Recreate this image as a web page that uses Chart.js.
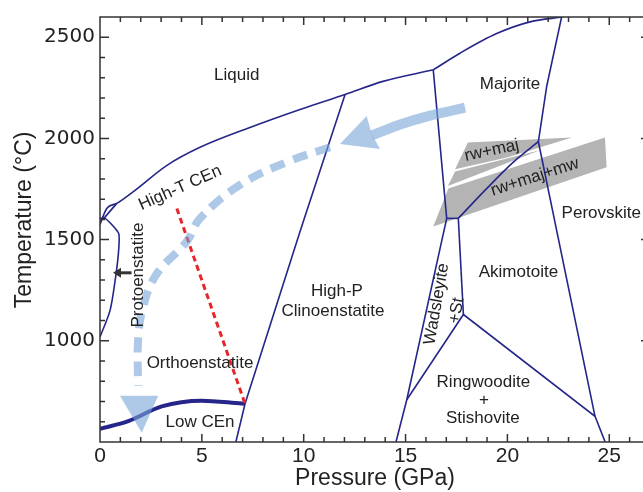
<!DOCTYPE html>
<html>
<head>
<meta charset="utf-8">
<script src="https://cdn.jsdelivr.net/npm/chart.js@4.4.1/dist/chart.umd.min.js"></script>
<style>
  html, body { margin: 0; padding: 0; overflow: hidden; background: #fff; }
  #wrap { width: 660px; height: 492px; }
</style>
</head>
<body>
<div id="wrap"><canvas id="phaseChart" width="660" height="492"></canvas></div>
<script>
// tick labels
const pressureTicks = [0, 5, 10, 15, 20, 25];
const temperatureTicks = [1000, 1500, 2000, 2500];

// phase boundaries as [pressure (GPa), temperature (°C)]
const liquidusLow = [[0,1575],[0.33,1654],[0.82,1679],[1.62,1736],[3.27,1866],[4.91,1956],[7.36,2054],[9.82,2143],[12.03,2217],[13.89,2282],[16.36,2339]];
const liquidusHigh = [[16.36,2339],[17.67,2421],[19.47,2518],[21.11,2576],[22.7,2600]];
const protoBoundary = [[0,1019],[0.49,1149],[0.74,1296],[0.9,1428],[0.93,1526],[0.74,1556],[0.25,1605],[0,1605]];
const protoTie = [[0.82,1679],[0.15,1600]];
const clinoBoundary = [[12.03,2217],[9.82,1540],[7.12,689],[6.67,500]];
const lowCEnBoundary = [[0,565],[1.39,603],[3.03,676],[4.99,704],[6.96,690],[7.12,689]];
const metastableLine = [[3.77,1654],[7.12,689]];
const wadsleyiteLeft = [[16.36,2339],[17.02,1605],[16.77,1491],[15.06,709],[14.53,500]];
const wadsleyiteTop = [[17.02,1605],[17.59,1605]];
const wadsleyiteRight = [[17.59,1605],[17.84,1130]];
const ringwooditeTop = [[15.06,709],[17.84,1130],[24.30,627],[24.8,500]];
const garnetCurve = [[17.59,1605],[18.98,1752],[20.29,1883],[21.52,1984]];
const perovskiteLine = [[22.66,2600],[21.93,2258],[21.52,1984],[24.30,627]];

// grey fields
const rwMaj = [[18.06,1980],[23.17,2005],[20.03,1907],[17.43,1848]];
const rwMajSliver = [[17.43,1836],[21.60,1941],[17.08,1765]];
const rwMajMw = [[17.10,1752],[24.79,2005],[24.87,1858],[16.36,1565]];

// arrows
const arrowShaft = [[17.92,2152],[16.20,2113],[14.73,2069],[13.35,2015]];
const arrowHeadUpper = [[11.78,1972],[13.09,2111],[13.34,2021],[13.75,1948]];
const arrowDashed = [[11.29,1956],[9.17,1883],[6.87,1770],[4.91,1605],[4.26,1491],[2.78,1330],[2.11,1165],[1.87,1002],[1.87,777]];
const arrowHeadLower = [[0.98,728],[2.86,728],[2.05,546]];
const blackArrowShaft = [[1.55,1336],[0.9,1336]];
const blackArrowHead = [[0.64,1336],[1.03,1361],[1.03,1311]];

// field names
const fieldLabels = [
  { text: 'Liquid', p: 6.71, t: 2310 },
  { text: 'Majorite', p: 20.13, t: 2266 },
  { text: 'rw+maj', p: 19.23, t: 1940, rot: -12 },
  { text: 'rw+maj+mw', p: 21.35, t: 1809, rot: -18 },
  { text: 'Perovskite', p: 22.66, t: 1630, align: 'left' },
  { text: 'High-T CEn', p: 3.93, t: 1755, rot: -24 },
  { text: 'Protoenstatite', p: 1.87, t: 1325, rot: -90 },
  { text: 'Orthoenstatite', p: 4.91, t: 891 },
  { text: 'Low CEn', p: 4.91, t: 598 },
  { text: 'High-P', p: 11.63, t: 1247 },
  { text: 'Clinoenstatite', p: 11.44, t: 1144 },
  { text: 'Wadsleyite', p: 16.53, t: 1182, rot: -80 },
  { text: '+St', p: 17.51, t: 1149, rot: -80 },
  { text: 'Akimotoite', p: 20.54, t: 1336 },
  { text: 'Ringwoodite', p: 18.82, t: 794 },
  { text: '+', p: 18.85, t: 708 },
  { text: 'Stishovite', p: 18.79, t: 615 },
];

const NAVY = '#26268a';
const BLUE = 'rgba(120,165,215,0.6)';
const pts = arr => arr.map(([x, y]) => ({ x, y }));

function boundary(arr, extra) {
  return Object.assign({
    data: pts(arr), showLine: true, borderColor: NAVY, borderWidth: 1.6,
    pointRadius: 0, fill: false, tension: 0, order: 5,
  }, extra);
}
function field(arr, color, order) {
  const closed = arr.concat([arr[0]]);
  return {
    data: pts(closed), showLine: true, borderWidth: 0, borderColor: 'rgba(0,0,0,0)',
    backgroundColor: color, fill: 'shape', pointRadius: 0, tension: 0, order: order,
  };
}

const frameTicks = {
  id: 'frameTicks',
  afterDatasetsDraw(chart) {
    const { ctx, chartArea: a, scales: { x, y } } = chart;
    ctx.save();
    ctx.strokeStyle = '#333';
    ctx.lineWidth = 1.5;
    ctx.strokeRect(a.left, a.top, a.right - a.left, a.bottom - a.top);
    ctx.beginPath();
    for (let p = 1; p <= 26; p++) {
      const px = x.getPixelForValue(p);
      const len = p % 5 === 0 ? 8 : 5;
      ctx.moveTo(px, a.bottom); ctx.lineTo(px, a.bottom - len);
      ctx.moveTo(px, a.top); ctx.lineTo(px, a.top + len);
    }
    for (let t = 600; t <= 2500; t += 100) {
      const py = y.getPixelForValue(t);
      const len = t % 500 === 0 ? 9 : 5;
      ctx.moveTo(a.left, py); ctx.lineTo(a.left + len, py);
      ctx.moveTo(a.right, py); ctx.lineTo(a.right - len, py);
    }
    ctx.stroke();

    // field labels
    ctx.fillStyle = '#222';
    ctx.font = '17px "Liberation Sans", Arial, sans-serif';
    ctx.textBaseline = 'middle';
    fieldLabels.forEach(l => {
      ctx.save();
      ctx.translate(x.getPixelForValue(l.p), y.getPixelForValue(l.t));
      ctx.rotate((l.rot || 0) * Math.PI / 180);
      ctx.textAlign = l.align || 'center';
      ctx.fillText(l.text, 0, 0);
      ctx.restore();
    });
    ctx.restore();
  }
};

new Chart(document.getElementById('phaseChart'), {
  type: 'scatter',
  data: {
    datasets: [
      field(rwMaj, '#b4b4b4', 10),
      field(rwMajSliver, '#b4b4b4', 10),
      field(rwMajMw, '#b4b4b4', 10),
      boundary(liquidusLow, { cubicInterpolationMode: 'monotone' }),
      boundary(liquidusHigh, { cubicInterpolationMode: 'monotone' }),
      boundary(protoBoundary, { tension: 0.3 }),
      boundary(protoTie),
      boundary(clinoBoundary),
      boundary(lowCEnBoundary, { borderWidth: 4, cubicInterpolationMode: 'monotone' }),
      boundary(wadsleyiteLeft),
      boundary(wadsleyiteTop),
      boundary(wadsleyiteRight),
      boundary(ringwooditeTop),
      boundary(garnetCurve, { cubicInterpolationMode: 'monotone' }),
      boundary(perovskiteLine),
      boundary(metastableLine, { borderColor: '#e8262a', borderWidth: 3, borderDash: [6, 4], order: 4 }),
      boundary(blackArrowShaft, { borderColor: '#333', borderWidth: 3, order: 3 }),
      field(blackArrowHead, '#333', 3),
      boundary(arrowShaft, { borderColor: BLUE, borderWidth: 10, tension: 0.2, order: 1 }),
      field(arrowHeadUpper, BLUE, 1),
      boundary(arrowDashed, { borderColor: BLUE, borderWidth: 8, borderDash: [15, 9], tension: 0.4, order: 1 }),
      field(arrowHeadLower, BLUE, 1),
    ],
  },
  options: {
    responsive: false,
    animation: false,
    events: [],
    layout: { padding: { top: 13, right: 10, left: 0, bottom: 0 } },
    plugins: { legend: { display: false }, tooltip: { enabled: false } },
    scales: {
      x: {
        type: 'linear', min: 0, max: 27,
        afterFit: s => { s.height = 50; },
        afterBuildTicks: s => { s.ticks = pressureTicks.map(v => ({ value: v })); },
        grid: { display: false, drawTicks: false },
        border: { display: false },
        ticks: { color: '#222', padding: 2, callback: v => String(v),
                 font: { family: '"Liberation Sans", Arial', size: 21 } },
        title: { display: true, text: 'Pressure (GPa)', color: '#222', padding: { top: 0, bottom: 0 },
                 font: { family: '"Liberation Sans", Arial', size: 23 } },
      },
      y: {
        type: 'linear', min: 500, max: 2600,
        afterFit: s => { s.width = 100; },
        afterBuildTicks: s => { s.ticks = temperatureTicks.map(v => ({ value: v })); },
        grid: { display: false, drawTicks: false },
        border: { display: false },
        ticks: { color: '#222', padding: 5, callback: v => String(v),
                 font: { family: '"DejaVu Sans"', size: 20 } },
        title: { display: true, text: '   Temperature (°C)', color: '#222', padding: { top: 11, bottom: 0 },
                 font: { family: '"Liberation Sans", Arial', size: 23 } },
      },
    },
  },
  plugins: [frameTicks],
});
</script>
</body>
</html>
